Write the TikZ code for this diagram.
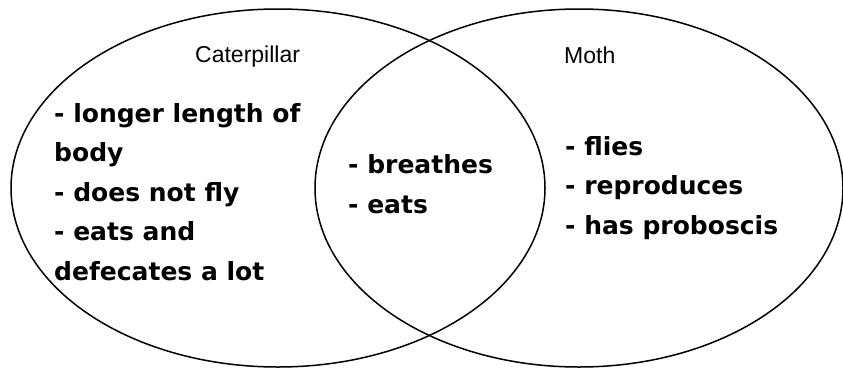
\documentclass[tikz,border=0pt]{standalone}
\usepackage{fontspec}
\setmainfont{Liberation Sans}
\newfontfamily\itemfont{DejaVu Sans}
\begin{document}
\begin{tikzpicture}[x=1pt,y=-1pt,
  setline/.style={line width=1.5pt, draw=black},
  title/.style={anchor=base west, inner sep=0pt, font=\fontsize{23}{27}\selectfont},
  items/.style={anchor=base west, inner sep=0pt, align=left, font=\itemfont\bfseries\fontsize{25}{39.5}\selectfont}]
\useasboundingbox (0,0) rectangle (843,367);
\draw[setline] (278,188) ellipse [x radius=267, y radius=179];
\draw[setline] (579,188) ellipse [x radius=264, y radius=179];
\node[title] (cat) at (195,62) {Caterpillar};
\node[title] (moth) at (564,63) {Moth};
\node[items] (left) at (54,280) {- longer length of\\body\\- does not fly\\- eats and\\defecates a lot};
\node[items] (mid) at (348,213) {- breathes\\- eats};
\node[items] (right) at (565,234) {- flies\\- reproduces\\- has proboscis};
\end{tikzpicture}
\end{document}
